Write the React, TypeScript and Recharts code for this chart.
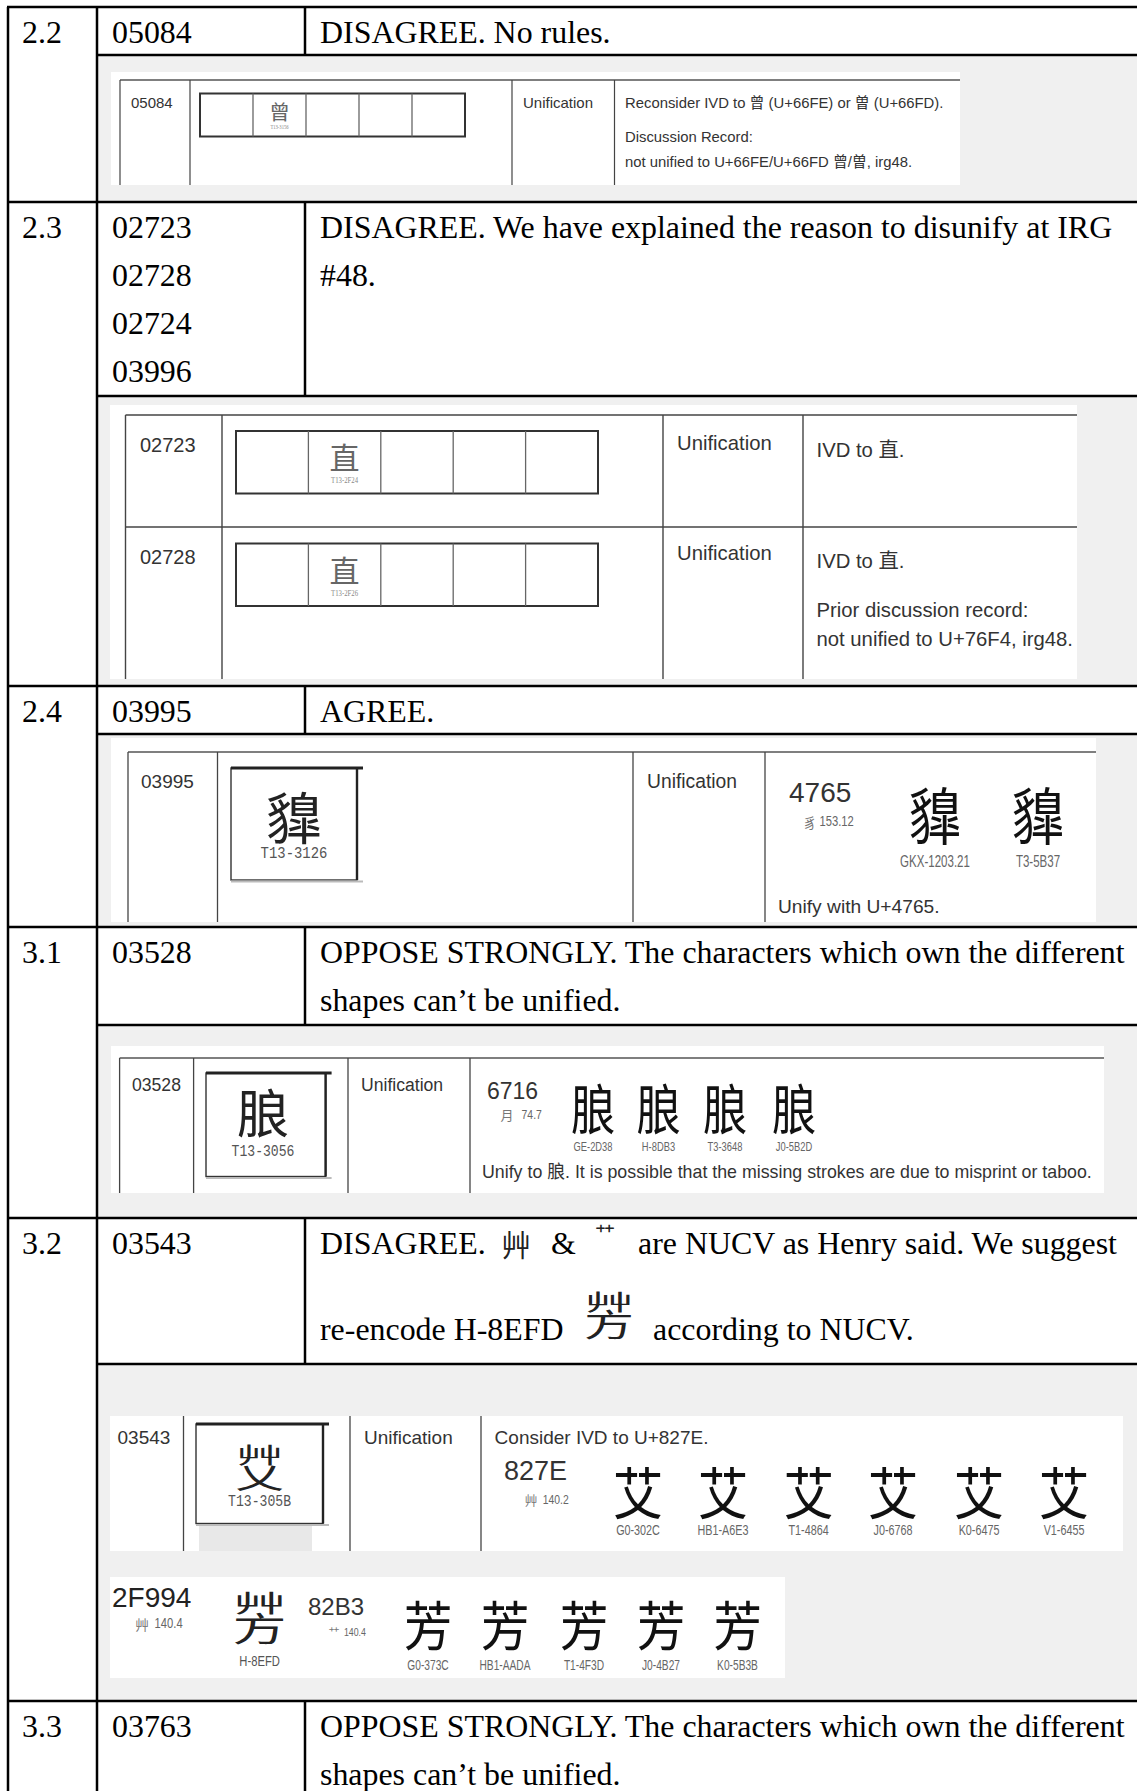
import React from 'react';
import { ComposedChart, Customized } from 'recharts';

// ---------------- data ----------------
const sectionNumbers = ['2.2', '2.3', '2.4', '3.1', '3.2', '3.3'];
const sectionIds = [['05084'], ['02723', '02728', '02724', '03996'], ['03995'], ['03528'], ['03543'], ['03763']];
const sectionComments = [
  ['DISAGREE. No rules.'],
  ['DISAGREE. We have explained the reason to disunify at IRG', '#48.'],
  ['AGREE.'],
  ['OPPOSE STRONGLY. The characters which own the different', 'shapes can’t be unified.'],
  [],
  ['OPPOSE STRONGLY. The characters which own the different', 'shapes can’t be unified.'],
];
const comment32Line1 = ['DISAGREE.', '艸', '&', '艹', 'are NUCV as Henry said. We suggest'];
const comment32Line2 = ['re-encode H-8EFD', 'according to NUCV.'];

const reviewType = 'Unification';
const notes22 = ['Reconsider IVD to 曾 (U+66FE) or 曽 (U+66FD).', 'Discussion Record:', 'not unified to U+66FE/U+66FD 曾/曽, irg48.'];
const notes23a = ['IVD to 直.'];
const notes23b = ['IVD to 直.', 'Prior discussion record:', 'not unified to U+76F4, irg48.'];
const ids23 = ['02723', '02728'];
const src23 = ['T13-2F24', 'T13-2F26'];

const cp24 = '4765';
const rad24 = ['豸', '153.12'];
const glyphs24 = ['䝥', '䝥'];
const srcs24 = ['GKX-1203.21', 'T3-5B37'];
const note24 = 'Unify with U+4765.';

const cp31 = '6716';
const rad31 = ['月', '74.7'];
const glyphs31 = ['朖', '朖', '朖', '朖'];
const srcs31 = ['GE-2D38', 'H-8DB3', 'T3-3648', 'J0-5B2D'];
const note31 = 'Unify to 朖. It is possible that the missing strokes are due to misprint or taboo.';

const note32 = 'Consider IVD to U+827E.';
const cp32a = '827E';
const rad32a = ['艸', '140.2'];
const glyphs32a = ['艾', '艾', '艾', '艾', '艾', '艾'];
const srcs32a = ['G0-302C', 'HB1-A6E3', 'T1-4864', 'J0-6768', 'K0-6475', 'V1-6455'];
const cp32b = '2F994';
const rad32b = ['艸', '140.4'];
const src32b = 'H-8EFD';
const cp32c = '82B3';
const rad32c = ['艹', '140.4'];
const glyphs32c = ['芳', '芳', '芳', '芳', '芳'];
const srcs32c = ['G0-373C', 'HB1-AADA', 'T1-4F3D', 'J0-4B27', 'K0-5B3B'];

// ---------------- layout / style ----------------
const W = 1137;
const H = 1791;
const SERIF = "'Liberation Serif','Times New Roman',serif";
const SANS = "'Liberation Sans',Arial,'Noto Sans CJK TC',sans-serif";
const CJK = "'Noto Sans CJK TC','Noto Sans CJK SC',sans-serif";
const MONO = "'Liberation Mono','DejaVu Sans Mono',monospace";
const X_LEFT = 8;
const X_COL1 = 97;
const X_COL2 = 305;
const SEP = [7, 202, 686, 927, 1218, 1701];
const HEAD_BOTTOM = [55, 396, 734, 1025, 1364, H];
const HEAD_FS = 31.9;
const LINE_STEP = 48;

const Txt = ({ x, y, t, fs, fam = SANS, fill = '#333', anchor = 'start', weight = 'normal' }: any) => (
  <text x={x} y={y} fontSize={fs} fontFamily={fam} fill={fill} textAnchor={anchor} fontWeight={weight}>
    {t}
  </text>
);

const Glyph = ({ x, y, size, ch, fill = '#111', sx = 1 }: any) => (
  <text
    x={0}
    y={0}
    transform={`translate(${x},${y}) scale(${sx},1)`}
    fontSize={size}
    fontFamily={CJK}
    fill={fill}
    textAnchor="middle"
    dominantBaseline="central"
  >
    {ch}
  </text>
);

const Lbl = ({ x, y, size, t, fill = '#555', sx = 0.78, fam = SANS }: any) => (
  <text
    x={0}
    y={0}
    transform={`translate(${x},${y}) scale(${sx},1)`}
    fontSize={size}
    fontFamily={fam}
    fill={fill}
    textAnchor="middle"
    dominantBaseline="central"
  >
    {t}
  </text>
);

// character with 艸 on top (drawn as two stacked glyphs)
const Stacked = ({ x, y, size, bottom, fill = '#111' }: any) => (
  <g>
    <text
      transform={`translate(${x},${y - size * 0.26}) scale(1,0.44)`}
      fontSize={size}
      fontFamily={CJK}
      fill={fill}
      textAnchor="middle"
      dominantBaseline="central"
    >
      艸
    </text>
    <text
      transform={`translate(${x},${y + size * 0.19}) scale(1,0.62)`}
      fontSize={size}
      fontFamily={CJK}
      fill={fill}
      textAnchor="middle"
      dominantBaseline="central"
    >
      {bottom}
    </text>
  </g>
);

const Radical = ({ x, y, r, n, fs }: any) => (
  <g>
    <Glyph x={x} y={y} size={fs} ch={r} fill="#777" />
    <Lbl x={x + fs * 1.9} y={y} size={fs} t={n} fill="#666" sx={0.8} />
  </g>
);

const GridBox = ({ x, y, w, h, glyph, src }: any) => {
  const cw = w / 5;
  return (
    <g>
      <rect x={x} y={y} width={w} height={h} fill="#fff" stroke="#333" strokeWidth={2} />
      {[1, 2, 3, 4].map((i) => (
        <line key={i} x1={x + cw * i} y1={y} x2={x + cw * i} y2={y + h} stroke="#666" strokeWidth={1.3} />
      ))}
      <Glyph x={x + cw * 1.5} y={y + h * 0.4} size={h * 0.48} ch={glyph} fill="#666" />
      <Lbl x={x + cw * 1.5} y={y + h * 0.8} size={h * 0.12} t={src} fill="#888" sx={0.9} fam={SERIF} />
    </g>
  );
};

const SourceBox = ({ x, y, w, h }: any) => (
  <g>
    <rect x={x} y={y} width={w} height={h} fill="#fff" stroke="#333" strokeWidth={1.4} />
    <line x1={x} y1={y} x2={x + w + 6} y2={y} stroke="#222" strokeWidth={3} />
    <line x1={x + w} y1={y} x2={x + w} y2={y + h} stroke="#222" strokeWidth={2.4} />
    <line x1={x} y1={y + h + 1.5} x2={x + w + 6} y2={y + h + 1.5} stroke="#bbb" strokeWidth={2} />
  </g>
);

const TableLayer = () => {
  const lines: any[] = [];
  // horizontal separators
  SEP.forEach((y, i) => lines.push(<line key={`s${i}`} x1={X_LEFT - 1} y1={y} x2={W} y2={y} stroke="#000" strokeWidth={2.5} />));
  HEAD_BOTTOM.slice(0, 5).forEach((y, i) =>
    lines.push(<line key={`h${i}`} x1={X_COL1} y1={y} x2={W} y2={y} stroke="#000" strokeWidth={2.5} />)
  );
  // verticals
  lines.push(<line key="vl" x1={X_LEFT} y1={SEP[0]} x2={X_LEFT} y2={H} stroke="#000" strokeWidth={2.5} />);
  lines.push(<line key="v1" x1={X_COL1} y1={SEP[0]} x2={X_COL1} y2={H} stroke="#000" strokeWidth={2.5} />);
  SEP.forEach((y, i) =>
    lines.push(<line key={`v2${i}`} x1={X_COL2} y1={y} x2={X_COL2} y2={HEAD_BOTTOM[i]} stroke="#000" strokeWidth={2.5} />)
  );

  // gray image cells
  const grays = [0, 1, 2, 3, 4].map((i) => (
    <rect key={`g${i}`} x={X_COL1} y={HEAD_BOTTOM[i]} width={W - X_COL1} height={SEP[i + 1] - HEAD_BOTTOM[i]} fill="#f0f0f0" />
  ));

  // header texts
  const heads: any[] = [];
  sectionNumbers.forEach((n, i) => {
    const base = SEP[i] + 36;
    heads.push(<Txt key={`n${i}`} x={22} y={base} t={n} fs={HEAD_FS} fam={SERIF} fill="#000" />);
    sectionIds[i].forEach((id, j) =>
      heads.push(<Txt key={`id${i}${j}`} x={112} y={base + j * LINE_STEP} t={id} fs={HEAD_FS} fam={SERIF} fill="#000" />)
    );
    sectionComments[i].forEach((c, j) =>
      heads.push(<Txt key={`c${i}${j}`} x={320} y={base + j * LINE_STEP} t={c} fs={HEAD_FS} fam={SERIF} fill="#000" />)
    );
  });
  // special 3.2 header
  const b32 = SEP[4] + 36;
  const head32 = (
    <g>
      <Txt x={320} y={b32} t={comment32Line1[0]} fs={HEAD_FS} fam={SERIF} fill="#000" />
      <Glyph x={516} y={b32 - 11} size={30} ch={comment32Line1[1]} fill="#222" />
      <Txt x={551} y={b32} t={comment32Line1[2]} fs={HEAD_FS} fam={SERIF} fill="#000" />
      <Glyph x={605} y={b32 - 21} size={20} ch={comment32Line1[3]} fill="#222" />
      <Txt x={638} y={b32} t={comment32Line1[4]} fs={HEAD_FS} fam={SERIF} fill="#000" />
      <Txt x={320} y={1340} t={comment32Line2[0]} fs={HEAD_FS} fam={SERIF} fill="#000" />
      <Stacked x={609} y={1313} size={50} bottom="方" fill="#222" />
      <Txt x={653} y={1340} t={comment32Line2[1]} fs={HEAD_FS} fam={SERIF} fill="#000" />
    </g>
  );

  // ---- 2.2 image ----
  const img22 = (
    <g>
      <rect x={111} y={72} width={849} height={113} fill="#fff" />
      <line x1={120} y1={80} x2={960} y2={80} stroke="#555" strokeWidth={1.5} />
      {[120, 190, 512, 614.5].map((x) => (
        <line key={x} x1={x} y1={80} x2={x} y2={185} stroke="#444" strokeWidth={1.2} />
      ))}
      <Txt x={131} y={108} t={sectionIds[0][0]} fs={15} />
      <GridBox x={200} y={93.5} w={265} h={43} glyph="曾" src="T13-3156" />
      <Txt x={523} y={107.5} t={reviewType} fs={15} />
      {notes22.map((t, i) => (
        <Txt key={i} x={625} y={[107.5, 141.5, 166.5][i]} t={t} fs={14.85} />
      ))}
    </g>
  );

  // ---- 2.3 image ----
  const img23 = (
    <g>
      <rect x={110} y={405} width={967} height={274} fill="#fff" />
      <line x1={125.5} y1={415} x2={1077} y2={415} stroke="#444" strokeWidth={1.6} />
      <line x1={125.5} y1={527} x2={1077} y2={527} stroke="#444" strokeWidth={1.6} />
      {[125.5, 222, 663, 803].map((x) => (
        <line key={x} x1={x} y1={415} x2={x} y2={679} stroke="#444" strokeWidth={1.4} />
      ))}
      {ids23.map((id, i) => (
        <g key={id}>
          <Txt x={140} y={452 + i * 112} t={id} fs={20} />
          <GridBox x={236} y={431 + i * 112.5} w={362} h={62.5} glyph="直" src={src23[i]} />
          <Txt x={677} y={450 + i * 110} t={reviewType} fs={20.3} />
        </g>
      ))}
      <Txt x={816.5} y={457} t={notes23a[0]} fs={20.3} />
      {notes23b.map((t, i) => (
        <Txt key={i} x={816.5} y={[568, 617, 646][i]} t={t} fs={20.3} />
      ))}
    </g>
  );

  // ---- 2.4 image ----
  const img24 = (
    <g>
      <rect x={111} y={738} width={985} height={184} fill="#fff" />
      <line x1={128} y1={752} x2={1096} y2={752} stroke="#555" strokeWidth={1.5} />
      {[128, 217.5, 633, 765].map((x) => (
        <line key={x} x1={x} y1={752} x2={x} y2={922} stroke="#444" strokeWidth={1.3} />
      ))}
      <Txt x={141} y={788} t={sectionIds[2][0]} fs={19} />
      <SourceBox x={231} y={768} w={126} h={112} />
      <Glyph x={294} y={814} size={56} ch={glyphs24[0]} fill="#222" />
      <Lbl x={294} y={854} size={17} t="T13-3126" fill="#555" sx={0.82} fam={MONO} />
      <Txt x={647} y={788} t={reviewType} fs={19.3} />
      <Txt x={789} y={802} t={cp24} fs={28} fill="#333" />
      <Radical x={810} y={822} r={rad24[0]} n={rad24[1]} fs={14} />
      {glyphs24.map((g, i) => (
        <g key={i}>
          <Glyph x={[935, 1038][i]} y={813} size={62} ch={g} sx={0.85} />
          <Lbl x={[935, 1038][i]} y={861.5} size={16} t={srcs24[i]} fill="#666" sx={0.72} />
        </g>
      ))}
      <Txt x={778} y={913} t={note24} fs={19.2} />
    </g>
  );

  // ---- 3.1 image ----
  const g31x = [593, 658.5, 725, 794];
  const img31 = (
    <g>
      <rect x={111} y={1046} width={993} height={147} fill="#fff" />
      <line x1={119.6} y1={1058} x2={1104} y2={1058} stroke="#555" strokeWidth={1.5} />
      {[119.6, 193.6, 348, 470].map((x) => (
        <line key={x} x1={x} y1={1058} x2={x} y2={1193} stroke="#444" strokeWidth={1.3} />
      ))}
      <Txt x={132} y={1091} t={sectionIds[3][0]} fs={17.6} />
      <SourceBox x={206} y={1073} w={119.6} h={103.5} />
      <Glyph x={263} y={1110} size={52} ch={glyphs31[0]} fill="#222" />
      <Lbl x={263} y={1151.5} size={16} t="T13-3056" fill="#555" sx={0.82} fam={MONO} />
      <Txt x={361} y={1091} t={reviewType} fs={17.6} />
      <Txt x={487} y={1099} t={cp31} fs={23} />
      <Radical x={507} y={1114} r={rad31[0]} n={rad31[1]} fs={13} />
      {glyphs31.map((g, i) => (
        <g key={i}>
          <Glyph x={g31x[i]} y={1106} size={54} ch={g} sx={0.82} />
          <Lbl x={g31x[i]} y={1146} size={13} t={srcs31[i]} fill="#666" sx={0.72} />
        </g>
      ))}
      <Txt x={482} y={1178} t={note31} fs={17.8} />
    </g>
  );

  // ---- 3.2 image ----
  const g32ax = [638, 723, 808.6, 893, 979, 1064];
  const g32cx = [428, 505, 584, 661, 737.5];
  const img32 = (
    <g>
      <rect x={110} y={1416} width={1013} height={135} fill="#fff" />
      {[183.5, 350, 481].map((x) => (
        <line key={x} x1={x} y1={1416} x2={x} y2={1551} stroke="#444" strokeWidth={1.3} />
      ))}
      <rect x={199} y={1525} width={113} height={26} fill="#e8e8e8" />
      <Txt x={117.5} y={1444} t={sectionIds[4][0]} fs={19} />
      <SourceBox x={196} y={1424} w={127} h={99.5} />
      <Stacked x={259.6} y={1466} size={48} bottom="乂" fill="#222" />
      <Lbl x={259.6} y={1502} size={16} t="T13-305B" fill="#555" sx={0.82} fam={MONO} />
      <Txt x={364} y={1444} t={reviewType} fs={19} />
      <Txt x={494.6} y={1444} t={note32} fs={19} />
      <Txt x={504} y={1480} t={cp32a} fs={27} />
      <Radical x={531} y={1499} r={rad32a[0]} n={rad32a[1]} fs={13} />
      {glyphs32a.map((g, i) => (
        <g key={i}>
          <Glyph x={g32ax[i]} y={1489} size={56} ch={g} sx={0.9} />
          <Lbl x={g32ax[i]} y={1530} size={15} t={srcs32a[i]} fill="#666" sx={0.72} />
        </g>
      ))}

      <rect x={110} y={1577} width={675} height={101} fill="#fff" />
      <Txt x={112} y={1607} t={cp32b} fs={28} fill="#222" />
      <Radical x={142} y={1624} r={rad32b[0]} n={rad32b[1]} fs={14} />
      <Stacked x={259.6} y={1616} size={54} bottom="方" fill="#222" />
      <Lbl x={259.6} y={1661} size={15} t={src32b} fill="#555" sx={0.75} />
      <Txt x={308} y={1615} t={cp32c} fs={24} />
      <Radical x={334} y={1632} r={rad32c[0]} n={rad32c[1]} fs={11} />
      {glyphs32c.map((g, i) => (
        <g key={i}>
          <Glyph x={g32cx[i]} y={1622} size={54} ch={g} sx={0.9} />
          <Lbl x={g32cx[i]} y={1664.5} size={15} t={srcs32c[i]} fill="#666" sx={0.68} />
        </g>
      ))}
    </g>
  );

  return (
    <g>
      <rect x={0} y={0} width={W} height={H} fill="#fff" />
      {grays}
      {img22}
      {img23}
      {img24}
      {img31}
      {img32}
      {heads}
      {head32}
      {lines}
    </g>
  );
};

const dummy = [{ k: 'table', v: 0 }];

export default function App() {
  return (
    <div style={{ position: 'absolute', left: 0, top: 0, width: W, height: H, background: '#fff' }}>
      <ComposedChart width={W} height={H} data={dummy} margin={{ top: 0, right: 0, bottom: 0, left: 0 }}>
        <Customized component={TableLayer} />
      </ComposedChart>
    </div>
  );
}
